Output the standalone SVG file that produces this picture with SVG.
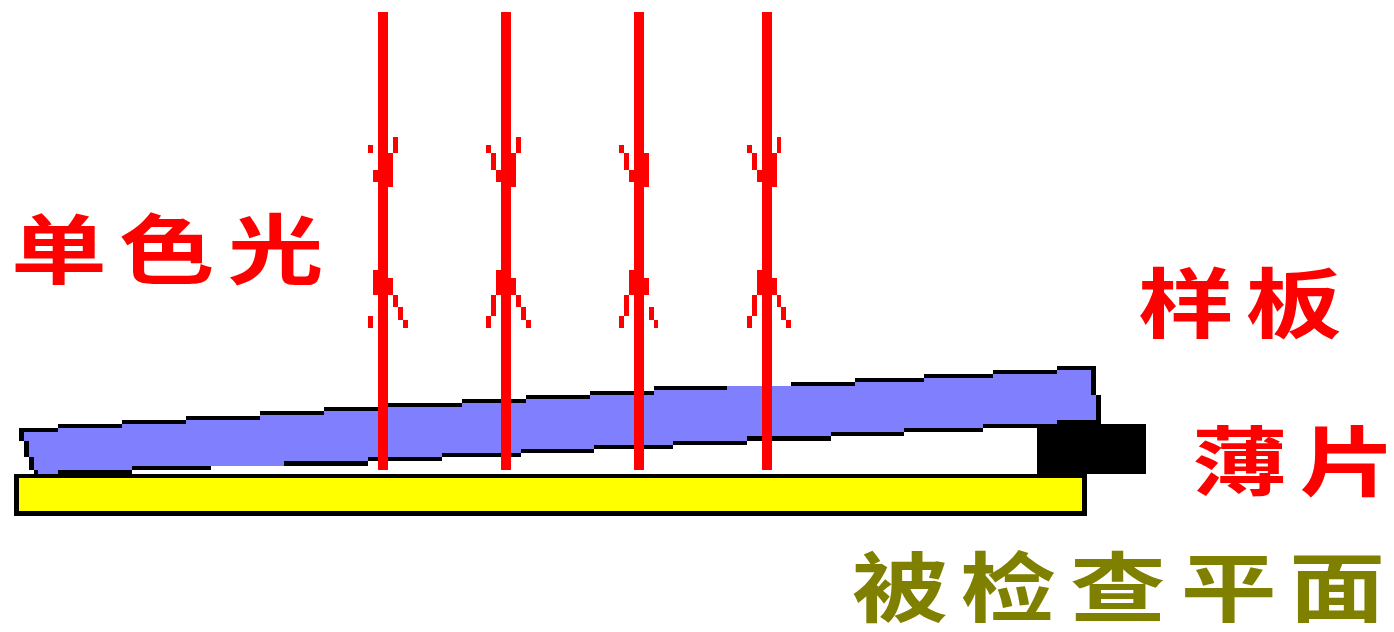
<svg xmlns="http://www.w3.org/2000/svg" width="1394" height="632" viewBox="0 0 1394 632">
<style>
.ink{fill:#000}
.ray{fill:#f00}
.plate{fill:#8080ff}
.flat{fill:#ff0}
path,rect,polygon{shape-rendering:crispEdges}
.lab{font-family:"Liberation Sans","Noto Sans CJK SC",sans-serif;font-size:76px;font-weight:700}
.red{fill:#f00}
.olive{fill:#808000}
</style>
<rect width="1394" height="632" fill="#fff"/>
<g id="flat-surface">
<rect class="ink" x="14" y="474" width="1073" height="42"/>
<rect class="flat" x="19" y="478" width="1063" height="33"/>
</g>
<g id="shim">
<rect class="ink" x="1037" y="424" width="109" height="50"/>
</g>
<g id="template">
<polygon class="plate" points="24,432 24,441 29,441 29,457 34,457 34,470 38,470 38,474 58,474 58,470 132,470 132,466 284,466 284,461 368,461 368,457 442,457 442,453 521,453 521,449 594,449 594,445 673,445 673,441 747,441 747,436 831,436 831,432 904,432 904,428 983,428 983,424 1057,424 1057,420 1096,420 1096,395 1091,395 1091,370 1057,370 1057,374 993,374 993,378 924,378 924,382 855,382 855,386 727,386 727,390 654,390 654,395 590,395 590,399 526,399 526,403 462,403 462,407 378,407 378,411 324,411 324,415 260,415 260,420 186,420 186,424 122,424 122,428 58,428 58,432"/>
<path class="ink" d="M19 428h39v4H24v9H19zM24 441h5v16h-5zM29 457h5v13h-5zM34 470h4v4h-4zM58 424h64v4H58zM122 420h64v4h-64zM186 416h74v4h-74zM260 411h64v4h-64zM324 407h54v4h-54zM378 403h84v4h-84zM462 399h64v4h-64zM526 395h64v4h-64zM590 391h64v4h-64zM654 386h73v4h-73zM791 382h64v4h-64zM855 378h69v4h-69zM924 374h69v4h-69zM993 370h64v4h-64zM1057 366h39v4h-39zM1091 370h5v25h-5zM1096 395h5v29h-5zM1057 420h44v4h-44zM983 424h74v4h-74zM904 428h79v4h-79zM831 432h73v4h-73zM747 436h84v5h-84zM673 441h74v4h-74zM594 445h79v4h-79zM521 449h73v4h-73zM442 453h79v4h-79zM368 457h74v4h-74zM284 461h84v5h-84zM132 466h79v4h-79zM58 470h74v4H58z"/>
</g>
<g id="connectors">
<path class="ray" d="M378 12h10v458h-10zM368 145h5v8h-5zM393 137h5v16h-5zM388 153h5v34h-5zM373 170h5v12h-5zM373 270h5v25h-5zM388 278h5v17h-5zM393 295h5v12h-5zM398 307h5v13h-5zM403 320h5v8h-5zM368 316h5v12h-5z"/>
<path class="ray" d="M501 12h10v458h-10zM486 145h5v8h-5zM491 153h5v17h-5zM496 170h5v12h-5zM516 137h5v16h-5zM511 153h5v34h-5zM496 270h5v25h-5zM511 278h5v17h-5zM516 295h5v12h-5zM521 307h5v13h-5zM526 320h5v8h-5zM491 295h5v21h-5zM486 316h5v12h-5z"/>
<path class="ray" d="M634 12h10v458h-10zM619 145h5v8h-5zM624 153h5v17h-5zM629 170h5v12h-5zM644 153h5v34h-5zM629 270h5v25h-5zM644 278h5v17h-5zM624 295h5v21h-5zM619 316h5v12h-5zM649 307h5v13h-5zM654 320h4v8h-4z"/>
<path class="ray" d="M762 12h10v458h-10zM747 145h5v8h-5zM752 153h5v17h-5zM757 170h5v12h-5zM777 137h4v16h-4zM772 153h5v34h-5zM757 270h5v25h-5zM772 278h5v17h-5zM752 295h5v21h-5zM747 316h5v12h-5zM777 295h4v12h-4zM781 307h5v13h-5zM786 320h5v8h-5z"/>
</g>
<g id="label-light"><text class="lab red" transform="translate(11,278) scale(1.26 1)" x="0 85.5 172">单色光</text></g>
<g id="label-template"><text class="lab red" transform="translate(1138,332) scale(1.26 1)" x="0 85.5">样板</text></g>
<g id="label-shim"><text class="lab red" transform="translate(1192,490) scale(1.26 1)" x="0 85.5">薄片</text></g>
<g id="label-surface"><text class="lab olive" transform="translate(852,616) scale(1.26 1)" x="0 86 173 261 347">被检查平面</text></g>
</svg>
